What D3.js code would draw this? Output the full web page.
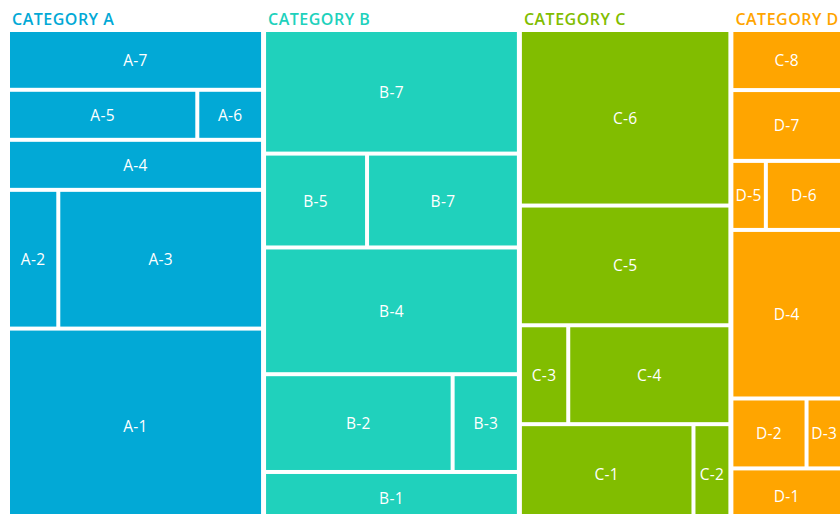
<!DOCTYPE html>
<html>
<head>
<meta charset="utf-8">
<script src="https://cdn.jsdelivr.net/npm/d3@7/dist/d3.min.js"></script>
<style>
  html, body { margin: 0; padding: 0; background: #fff; overflow: hidden; }
  svg { display: block; overflow: hidden; }
  text { font-family: "Open Sans", "Lato", sans-serif; }
</style>
</head>
<body>
<svg id="chart" width="840" height="514"></svg>
<script>
// Category titles and colours
const categories = ["CATEGORY A", "CATEGORY B", "CATEGORY C", "CATEGORY D"];
const colors = ["#02A9D6", "#20D1BC", "#81BD00", "#FFA500"];

// Each category is stacked in rows (top to bottom); a row holds one or more tiles (left to right)
const labelsA = [["A-7"], ["A-5", "A-6"], ["A-4"], ["A-2", "A-3"], ["A-1"]];
const valuesA = [[153], [95, 33], [128], [70, 285], [500]];

const labelsB = [["B-7"], ["B-5", "B-7"], ["B-4"], ["B-2", "B-3"], ["B-1"]];
const valuesB = [[316], [97, 143], [324], [185, 65], [133]];

const labelsC = [["C-6"], ["C-5"], ["C-3", "C-4"], ["C-1", "C-2"]];
const valuesC = [[371], [253], [48, 161], [174, 37]];

const labelsD = [["C-8"], ["D-7"], ["D-5", "D-6"], ["D-4"], ["D-2", "D-3"], ["D-1"]];
const valuesD = [[67], [79], [24, 53], [188], [53, 25], [62]];

const allLabels = [labelsA, labelsB, labelsC, labelsD];
const allValues = [valuesA, valuesB, valuesC, valuesD];

// Build the hierarchy: root -> category -> row -> tile
const data = {
  name: "root",
  children: categories.map((c, ci) => ({
    name: c,
    ci,
    children: allLabels[ci].map((row, ri) => ({
      name: c + "-row" + ri,
      children: row.map((lab, ti) => ({ name: lab, ci, value: allValues[ci][ri][ti] }))
    }))
  }))
};

const margin = { left: 10, top: 32 };
const width = 830, height = 490;

const root = d3.hierarchy(data).sum(d => d.value || 0);

d3.treemap()
  .tile(d3.treemapSliceDice)
  .size([width, height])
  .paddingInner(d => d.depth === 0 ? 5 : 4)
  .round(false)(root);

const svg = d3.select("#chart");
const g = svg.append("g").attr("transform", `translate(${margin.left},${margin.top})`);

// Tiles
const leaves = g.selectAll("g.tile")
  .data(root.leaves())
  .join("g")
  .attr("class", "tile");

leaves.append("rect")
  .attr("x", d => d.x0)
  .attr("y", d => d.y0)
  .attr("width", d => d.x1 - d.x0)
  .attr("height", d => d.y1 - d.y0)
  .attr("fill", d => colors[d.data.ci]);

leaves.append("text")
  .attr("x", d => (d.x0 + d.x1) / 2)
  .attr("y", d => (d.y0 + d.y1) / 2)
  .attr("text-anchor", "middle")
  .attr("dominant-baseline", "central")
  .attr("fill", "#fff")
  .attr("font-size", 15.5)
  .attr("font-weight", 500)
  .attr("letter-spacing", 0.3)
  .text(d => d.data.name);

// Category titles
g.selectAll("text.title")
  .data(root.children)
  .join("text")
  .attr("class", "title")
  .attr("x", d => d.x0 + 2)
  .attr("y", -7)
  .attr("fill", d => colors[d.data.ci])
  .attr("font-size", 16)
  .attr("font-weight", 600)
  .attr("letter-spacing", 0.5)
  .text(d => d.data.name);
</script>
</body>
</html>
